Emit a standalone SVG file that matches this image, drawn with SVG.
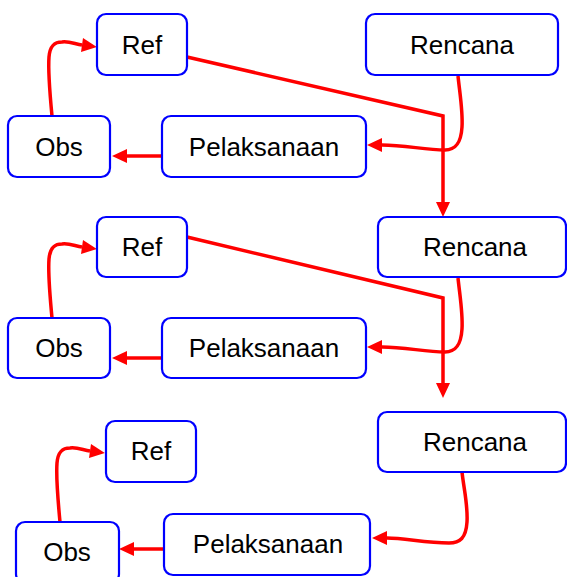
<svg xmlns="http://www.w3.org/2000/svg" width="567" height="577" viewBox="0 0 567 577">
<style>
.box{fill:#fff;stroke:#0000ff;stroke-width:2.2}
.lbl{font-family:"Liberation Sans",Arial,sans-serif;font-size:26px;fill:#000;text-anchor:middle}
.con{fill:none;stroke:#ff0000;stroke-width:3.5;marker-end:url(#ah)}
</style>
<defs>
<marker id="ah" markerUnits="userSpaceOnUse" markerWidth="16" markerHeight="16" refX="0" refY="7" orient="auto" viewBox="0 0 16 14" overflow="visible">
<path d="M0,0 L15,7 L0,14 z" fill="#ff0000"/>
</marker>
</defs>
<rect width="567" height="577" fill="#fff"/>
<g id="connectors">
<path class="con" d="M52,116 C50,95 48,70 49,57 C50,45 55,42 62,42 C69,41 75,44 82,45"/>
<path class="con" d="M162,156 L127,156"/>
<path class="con" d="M458,76 C460,95 463,112 462,127 C461,144 455,150 445,150 C425,150 405,145 382,145"/>
<path class="con" d="M187,57 L443,116 L443,202"/>
<path class="con" d="M52,318 C50,297 48,272 49,259 C50,247 55,244 62,244 C69,243 75,246 82,247"/>
<path class="con" d="M162,358 L127,358"/>
<path class="con" d="M458,278 C460,297 463,314 462,329 C461,346 455,352 445,352 C425,352 405,347 382,347"/>
<path class="con" d="M187,237 L443,298 L443,383"/>
<path class="con" d="M60,522 C58,501 56,476 57,463 C58,451 63,448 70,448 C77,447 83,450 90,451"/>
<path class="con" d="M164,549 L134,549"/>
<path class="con" d="M462,472 C464,490 468,505 467,522 C466,538 460,543 449,543 C425,543 405,538 387,538"/>
</g>
<g id="ref1"><rect class="box" x="97" y="14" width="90" height="61" rx="9"/><text class="lbl" x="142" y="54">Ref</text></g>
<g id="rencana1"><rect class="box" x="366" y="14" width="192" height="61" rx="9"/><text class="lbl" x="462" y="54">Rencana</text></g>
<g id="obs1"><rect class="box" x="8" y="116" width="102" height="61" rx="9"/><text class="lbl" x="59" y="156">Obs</text></g>
<g id="pel1"><rect class="box" x="162" y="116" width="204" height="61" rx="9"/><text class="lbl" x="264" y="156">Pelaksanaan</text></g>
<g id="ref2"><rect class="box" x="97" y="217" width="90" height="60" rx="9"/><text class="lbl" x="142" y="256">Ref</text></g>
<g id="rencana2"><rect class="box" x="378" y="217" width="188" height="60" rx="9"/><text class="lbl" x="475" y="256">Rencana</text></g>
<g id="obs2"><rect class="box" x="8" y="318" width="102" height="60" rx="9"/><text class="lbl" x="59" y="357">Obs</text></g>
<g id="pel2"><rect class="box" x="162" y="318" width="204" height="60" rx="9"/><text class="lbl" x="264" y="357">Pelaksanaan</text></g>
<g id="ref3"><rect class="box" x="106" y="421" width="90" height="61" rx="9"/><text class="lbl" x="151" y="460">Ref</text></g>
<g id="rencana3"><rect class="box" x="378" y="412" width="188" height="60" rx="9"/><text class="lbl" x="475" y="451">Rencana</text></g>
<g id="obs3"><rect class="box" x="16" y="522" width="103" height="61" rx="9"/><text class="lbl" x="67" y="561">Obs</text></g>
<g id="pel3"><rect class="box" x="164" y="514" width="206" height="61" rx="9"/><text class="lbl" x="268" y="553">Pelaksanaan</text></g>
</svg>
